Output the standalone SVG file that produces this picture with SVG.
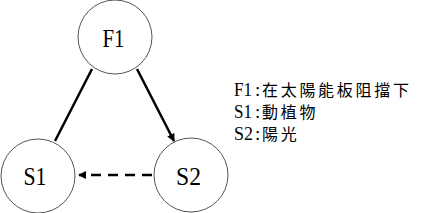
<svg xmlns="http://www.w3.org/2000/svg" width="421" height="213" viewBox="0 0 421 213">
<style>
.node{fill:#fff;stroke:#555;stroke-width:1}
.lbl{font-family:"Liberation Serif","Noto Serif CJK TC","Noto Sans CJK TC",serif;font-size:26px;fill:#000;text-anchor:middle}
.lat{font-family:"Liberation Serif",serif;font-size:19px;fill:#000}
.cjk{font-family:"Noto Sans CJK TC","Noto Sans CJK SC",sans-serif;font-size:16px;letter-spacing:2.7px;fill:#000}
.edge{stroke:#000;stroke-width:2.5;fill:none}
</style>
<defs>
<marker id="ah" markerWidth="8" markerHeight="8" refX="7" refY="4" orient="auto" markerUnits="userSpaceOnUse">
<path d="M0,0 L8,4 L0,8 Z" fill="#000"/>
</marker>
</defs>
<rect width="421" height="213" fill="#fff"/>
<g id="edges">
<line class="edge" x1="92" y1="69" x2="55" y2="141"/>
<line class="edge" x1="137" y1="69" x2="174" y2="141" marker-end="url(#ah)"/>
<line class="edge" x1="152" y1="175" x2="79" y2="175" stroke-dasharray="10,7" marker-end="url(#ah)"/>
</g>
<g id="F1"><circle class="node" cx="115" cy="37" r="37"/><text class="lbl" x="113.5" y="47" textLength="22" lengthAdjust="spacingAndGlyphs">F1</text></g>
<g id="S1"><circle class="node" cx="38" cy="176" r="37"/><text class="lbl" x="35" y="185" textLength="23" lengthAdjust="spacingAndGlyphs">S1</text></g>
<g id="S2"><circle class="node" cx="191" cy="175" r="37"/><text class="lbl" x="188.5" y="185" textLength="25" lengthAdjust="spacingAndGlyphs">S2</text></g>
<g id="legend">
<text class="lat" x="234" y="96" textLength="18" lengthAdjust="spacingAndGlyphs">F1</text>
<text class="lat" x="255" y="96">:</text>
<text class="cjk" x="262" y="96">在太陽能板阻擋下</text>
<text class="lat" x="234" y="118" textLength="18" lengthAdjust="spacingAndGlyphs">S1</text>
<text class="lat" x="255" y="118">:</text>
<text class="cjk" x="262" y="118">動植物</text>
<text class="lat" x="234" y="140" textLength="19" lengthAdjust="spacingAndGlyphs">S2</text>
<text class="lat" x="255" y="140">:</text>
<text class="cjk" x="262" y="140">陽光</text>
</g>
</svg>
